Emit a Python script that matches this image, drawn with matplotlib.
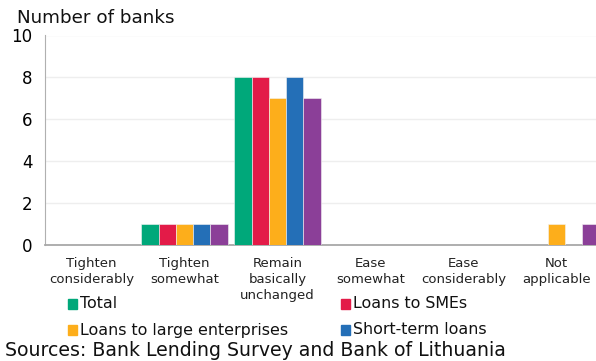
import matplotlib
matplotlib.use("Agg")
import matplotlib.pyplot as plt
import numpy as np
from matplotlib.patches import Rectangle

categories = ["Tighten\nconsiderably", "Tighten\nsomewhat", "Remain\nbasically\nunchanged",
              "Ease\nsomewhat", "Ease\nconsiderably", "Not\napplicable"]
total = [0, 1, 8, 0, 0, 0]
smes = [0, 1, 8, 0, 0, 0]
large = [0, 1, 7, 0, 0, 1]
short_term = [0, 1, 8, 0, 0, 0]
long_term = [0, 1, 7, 0, 0, 1]

series = [
    ("Total", total, "#00A87A"),
    ("Loans to SMEs", smes, "#E31B48"),
    ("Loans to large enterprises", large, "#FDAE1B"),
    ("Short-term loans", short_term, "#246FB7"),
    ("Long-term loans", long_term, "#8B3F98"),
]

W, H = 596, 361
fig = plt.figure(figsize=(W / 100, H / 100), dpi=100)
ax = fig.add_axes([45 / W, (H - 244.5) / H, 558 / W, 209 / H])

x = np.arange(len(categories))
n = len(series)
group = 0.93
bw = group / n
for i, (name, vals, col) in enumerate(series):
    ax.bar(x - group / 2 + bw * (i + 0.5), vals, width=bw, color=col,
           edgecolor="#f4f4f4", linewidth=0.4, zorder=3)

ax.set_xlim(-0.5, len(categories) - 0.5)
ax.set_ylim(0, 10)
ax.set_yticks(range(0, 11, 2))
ax.yaxis.grid(True, color="#eeeeee", linewidth=1, zorder=0)
ax.set_xticks(x)
ax.set_xticklabels(categories, fontsize=9.5, color="#222222", linespacing=1.3)
ax.tick_params(axis="x", length=0, pad=9)
ax.tick_params(axis="y", length=0, labelsize=12, pad=9)
for s in ["top", "right"]:
    ax.spines[s].set_visible(False)
ax.spines["left"].set_color("#b0b0b0")
ax.spines["bottom"].set_color("#a8a8a8")
ax.spines["bottom"].set_linewidth(1.3)

fig.text(17 / W, 1 - 18 / H, "Number of banks", fontsize=13.2, va="center", ha="left", color="#111111")

# legend: two columns, four entries
leg_pos = [(68, 304), (341, 304), (68, 330), (341, 330)]
for (name, vals, col), (px, py) in zip(series[:4], leg_pos):
    fig.add_artist(Rectangle((px / W, 1 - (py + 5) / H), 9 / W, 10 / H,
                             transform=fig.transFigure, color=col))
    fig.text((px + 12) / W, 1 - py / H, name, fontsize=11.4, va="center", ha="left", color="#111111")

fig.text(5 / W, 1 - 350 / H, "Sources: Bank Lending Survey and Bank of Lithuania",
         fontsize=13.6, va="center", ha="left", color="#111111")

fig.savefig("out.png", dpi=100)
